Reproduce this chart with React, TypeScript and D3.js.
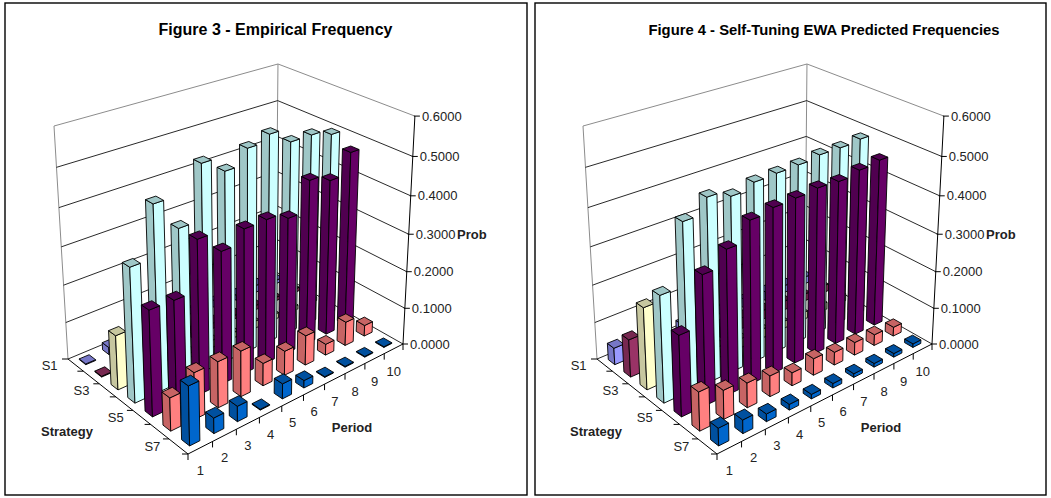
import React from "react";
import * as d3 from "d3";

type Pt = [number, number];

const periods = ["1", "2", "3", "4", "5", "6", "7", "8", "9", "10"];
const strategyLabels = ["S1", "", "S3", "", "S5", "", "S7"];
const valueTicks = [0, 0.1, 0.2, 0.3, 0.4, 0.5, 0.6];

const seriesColors = ["#9999FF", "#993366", "#FFFFCC", "#CCFFFF", "#660066", "#FF8080", "#0066CC"];

// Empirical frequency by strategy, one value per period
const empS1 = [0.002, 0.02, 0.012, 0.01, 0.015, 0.02, 0.02, 0.015, 0.02, 0.01];
const empS2 = [0.002, 0.008, 0.012, 0.01, 0.012, 0.015, 0.01, 0.012, 0.01, 0.01];
const empS3 = [0.143, 0.015, 0.02, 0.012, 0.02, 0.015, 0.02, 0.015, 0.012, 0.01];
const empS4 = [0.345, 0.475, 0.395, 0.533, 0.495, 0.533, 0.55, 0.513, 0.513, 0.497];
const empS5 = [0.27, 0.269, 0.395, 0.343, 0.377, 0.379, 0.361, 0.438, 0.418, 0.472];
const empS6 = [0.085, 0.12, 0.12, 0.12, 0.06, 0.065, 0.08, 0.03, 0.065, 0.03];
const empS7 = [0.15, 0.04, 0.04, 0.002, 0.04, 0.02, 0.002, 0.002, 0.002, 0.002];

// Self-tuning EWA predicted frequency by strategy
const ewaS1 = [0.045, 0.035, 0.03, 0.03, 0.03, 0.025, 0.025, 0.025, 0.02, 0.02];
const ewaS2 = [0.1, 0.05, 0.04, 0.035, 0.03, 0.03, 0.025, 0.025, 0.02, 0.02];
const ewaS3 = [0.215, 0.04, 0.03, 0.03, 0.025, 0.025, 0.02, 0.02, 0.02, 0.02];
const ewaS4 = [0.276, 0.433, 0.471, 0.453, 0.468, 0.471, 0.473, 0.48, 0.48, 0.485];
const ewaS5 = [0.208, 0.332, 0.371, 0.42, 0.43, 0.433, 0.438, 0.435, 0.445, 0.452];
const ewaS6 = [0.1, 0.075, 0.065, 0.055, 0.035, 0.045, 0.035, 0.035, 0.03, 0.025];
const ewaS7 = [0.045, 0.035, 0.02, 0.015, 0.012, 0.012, 0.01, 0.01, 0.01, 0.01];

const empirical = [empS1, empS2, empS3, empS4, empS5, empS6, empS7];
const predicted = [ewaS1, ewaS2, ewaS3, ewaS4, ewaS5, ewaS6, ewaS7];

// Chart box corners: floor A (first strategy, first period), B (last strategy,
// first period), C (last strategy, last period), D (first strategy, last period),
// plus the tops of the A and C verticals.
const floorA: Pt = [68, 359];
const floorB: Pt = [188, 454];
const floorC: Pt = [403, 344];
const floorD: Pt = [276, 272];
const topA: Pt = [54, 126];
const topC: Pt = [415, 114];

const BAR_FRACTION = 0.42;

function makeProjection() {
  const [x0, y0] = floorA;
  const [x1, y1] = floorD;
  const [x2, y2] = floorC;
  const [x3, y3] = floorB;
  const dx1 = x1 - x2, dx2 = x3 - x2, sx = x0 - x1 + x2 - x3;
  const dy1 = y1 - y2, dy2 = y3 - y2, sy = y0 - y1 + y2 - y3;
  const den = dx1 * dy2 - dx2 * dy1;
  const g = (sx * dy2 - dx2 * sy) / den;
  const h = (dx1 * sy - sx * dy1) / den;
  const a = x1 - x0 + g * x1, b = x3 - x0 + h * x3;
  const d = y1 - y0 + g * y1, e = y3 - y0 + h * y3;

  // Vanishing point of the verticals, where the two outer edges meet
  const m1 = (topA[0] - floorA[0]) / (topA[1] - floorA[1]);
  const m2 = (topC[0] - floorC[0]) / (topC[1] - floorC[1]);
  const vy = (floorC[0] - floorA[0] + m1 * floorA[1] - m2 * floorC[1]) / (m1 - m2);
  const vx = floorA[0] + m1 * (vy - floorA[1]);
  const k = (floorA[1] - topA[1]) / (topA[1] - vy);

  // u runs along the periods, v along the strategies, z up the value axis (all 0..1)
  return (u: number, v: number, z: number): Pt => {
    const w = g * u + h * v + 1 + k * z;
    return [
      (a * u + b * v + x0 + k * z * vx) / w,
      (d * u + e * v + y0 + k * z * vy) / w,
    ];
  };
}

const project = makeProjection();
const uScale = d3.scaleLinear().domain([0, periods.length]).range([0, 1]);
const vScale = d3.scaleLinear().domain([0, strategyLabels.length]).range([0, 1]);
const zScale = d3.scaleLinear().domain([0, 0.6]).range([0, 1]);
const poly = d3.line<Pt>().curve(d3.curveLinearClosed);
const polyline = d3.line<Pt>();

const shade = (c: string, f: number) => {
  const r = d3.rgb(c);
  return d3.rgb(r.r * f, r.g * f, r.b * f).formatHex();
};

function Bar({ s, p, value }: { s: number; p: number; value: number }) {
  const inset = (1 - BAR_FRACTION) / 2;
  const u0 = uScale(p + inset), u1 = uScale(p + 1 - inset);
  const v0 = vScale(s + inset), v1 = vScale(s + 1 - inset);
  const z = zScale(value);
  const color = seriesColors[s];
  const dark = shade(color, 0.78);
  const stroke = { stroke: "#000", strokeWidth: 0.9, strokeLinejoin: "round" as const };
  return (
    <g>
      <path
        d={poly([project(u0, v0, 0), project(u0, v1, 0), project(u0, v1, z), project(u0, v0, z)])!}
        fill={dark}
        {...stroke}
      />
      <path
        d={poly([project(u0, v1, 0), project(u1, v1, 0), project(u1, v1, z), project(u0, v1, z)])!}
        fill={color}
        {...stroke}
      />
      <path
        d={poly([project(u0, v0, z), project(u1, v0, z), project(u1, v1, z), project(u0, v1, z)])!}
        fill={dark}
        {...stroke}
      />
    </g>
  );
}

const textBase = { fontFamily: "'Liberation Sans', Arial, sans-serif", fill: "#222" };

function Panel({ dx, title, titleX, titleSize, rows, frame }: {
  dx: number;
  title: string;
  titleX: number;
  titleSize: number;
  rows: number[][];
  frame: [number, number];
}) {
  const wallColor = "#8c8c8c";
  const nS = strategyLabels.length;
  const nP = periods.length;
  const cornerTop = (u: number, v: number) => project(u, v, 1);
  return (
    <g>
      <rect x={frame[0]} y={3} width={frame[1] - frame[0]} height={492} fill="#fff" stroke="#000" strokeWidth={1.4} />
      <text x={titleX} y={35} textAnchor="middle" fontSize={titleSize} fontWeight="bold" {...textBase} fill="#000">
        {title}
      </text>
      <g transform={`translate(${dx},0)`}>
        {/* Wall outline */}
        <path
          d={polyline([project(0, 0, 0), cornerTop(0, 0), cornerTop(1, 0), cornerTop(1, 1)])!}
          fill="none"
          stroke={wallColor}
          strokeWidth={1}
        />
        <path d={polyline([project(1, 0, 0), cornerTop(1, 0)])!} fill="none" stroke={wallColor} strokeWidth={1} />
        {/* Value gridlines along both walls */}
        {valueTicks.slice(0, -1).map((t) => (
          <path
            key={t}
            d={polyline([project(0, 0, zScale(t)), project(1, 0, zScale(t)), project(1, 1, zScale(t))])!}
            fill="none"
            stroke="#111"
            strokeWidth={0.9}
          />
        ))}
        {/* Floor edges and the value axis */}
        <path
          d={polyline([project(0, 0, 0), project(0, 1, 0), project(1, 1, 0), project(1, 1, 1)])!}
          fill="none"
          stroke="#000"
          strokeWidth={1}
        />
        {/* Bars, painted from the far corner to the near corner */}
        {rows.map((row, s) =>
          d3.range(nP - 1, -1, -1).map((p) => <Bar key={`${s}-${p}`} s={s} p={p} value={row[p]} />)
        )}
        {/* Value axis ticks and labels */}
        {valueTicks.map((t) => {
          const [x, y] = project(1, 1, zScale(t));
          return (
            <g key={t}>
              <line x1={x - 1} x2={x + 5} y1={y} y2={y} stroke="#000" strokeWidth={1} />
              <text x={x + 7} y={y + 4.6} fontSize={13} {...textBase}>
                {t.toFixed(4)}
              </text>
            </g>
          );
        })}
        {/* Strategy axis */}
        {d3.range(nS + 1).map((i) => {
          const [x, y] = project(0, vScale(i), 0);
          return <line key={i} x1={x - 6} x2={x} y1={y} y2={y} stroke="#000" strokeWidth={1} />;
        })}
        {strategyLabels.map((label, i) => {
          const [x, y] = project(0, vScale(i + 0.5), 0);
          return label ? (
            <text key={i} x={x - 26} y={y + 5} textAnchor="middle" fontSize={13} {...textBase}>
              {label}
            </text>
          ) : null;
        })}
        {/* Period axis */}
        {d3.range(nP + 1).map((i) => {
          const [x, y] = project(uScale(i), 1, 0);
          return <line key={i} x1={x} x2={x} y1={y} y2={y + 6} stroke="#000" strokeWidth={1} />;
        })}
        {periods.map((label, i) => {
          const [x, y] = project(uScale(i + 0.5), 1, 0);
          return (
            <text key={label} x={x} y={y + 27} textAnchor="middle" fontSize={13} {...textBase}>
              {label}
            </text>
          );
        })}
        {/* Axis titles */}
        <text x={67} y={436} textAnchor="middle" fontSize={13} fontWeight="bold" {...textBase}>Strategy</text>
        <text x={352} y={432} textAnchor="middle" fontSize={13} fontWeight="bold" {...textBase}>Period</text>
        <text x={457} y={239} fontSize={13} fontWeight="bold" {...textBase}>Prob</text>
      </g>
    </g>
  );
}

export default function App() {
  return (
    <svg
      width={1051}
      height={498}
      style={{ position: "absolute", left: 0, top: 0, display: "block", background: "#fff" }}
    >
      <Panel dx={0} title="Figure 3 - Empirical Frequency" titleX={275.5} titleSize={16} rows={empirical} frame={[5, 527]} />
      <Panel dx={529} title="Figure 4 - Self-Tuning EWA Predicted Frequencies" titleX={824} titleSize={14.8} rows={predicted} frame={[535, 1046]} />
    </svg>
  );
}
